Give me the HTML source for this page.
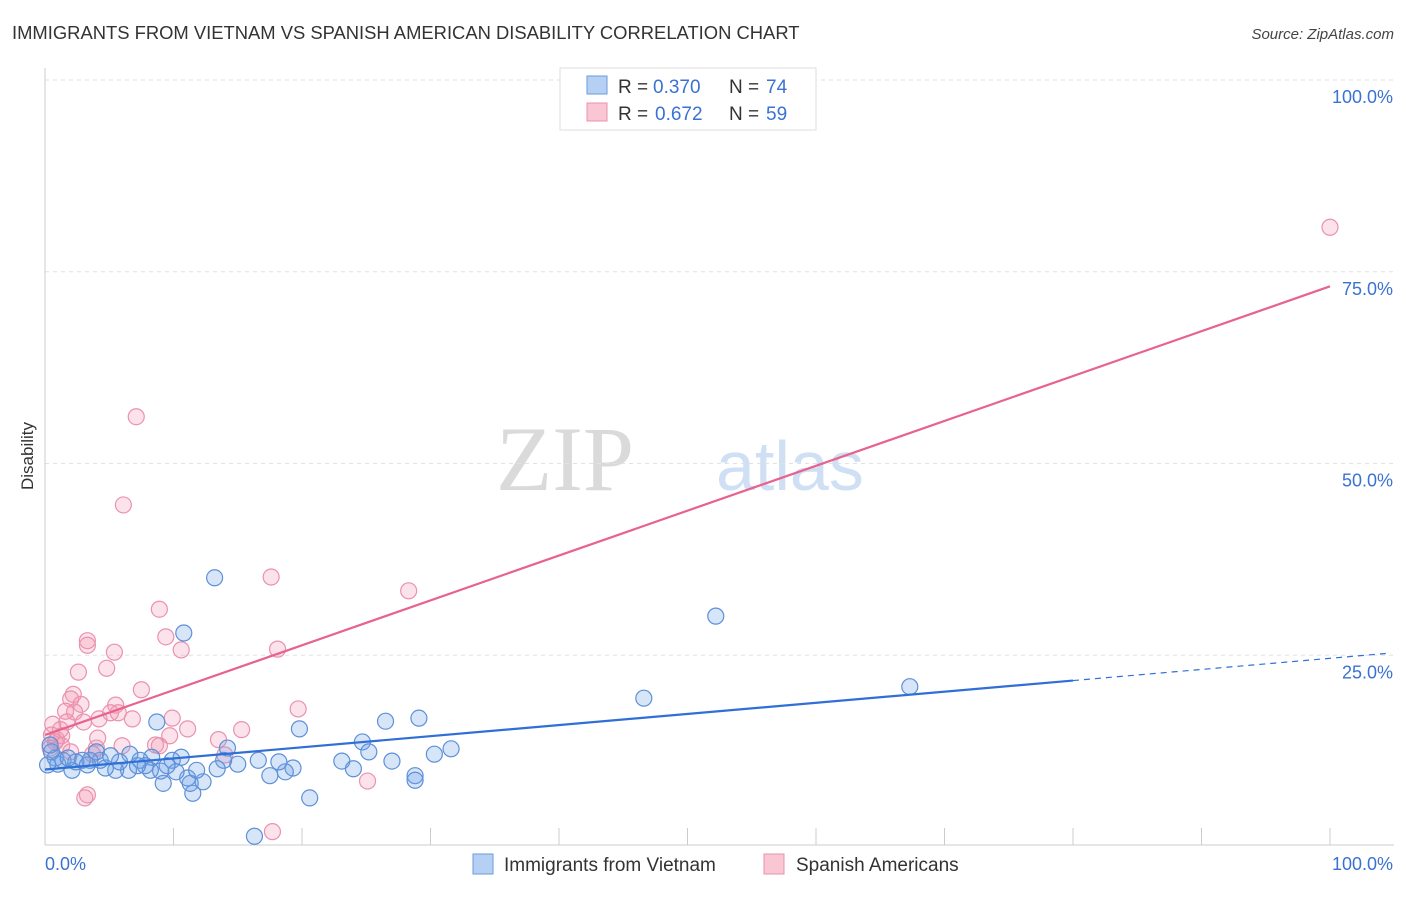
<!DOCTYPE html>
<html><head><meta charset="utf-8"><style>
body{margin:0;background:#fff;font-family:"Liberation Sans",sans-serif;}
</style></head><body>
<svg id="chart" width="1406" height="892" viewBox="0 0 1406 892" xmlns="http://www.w3.org/2000/svg" font-family="Liberation Sans, sans-serif">
<text x="12" y="39" font-size="18.4" fill="#333">IMMIGRANTS FROM VIETNAM VS SPANISH AMERICAN DISABILITY CORRELATION CHART</text>
<text x="1394" y="39" font-size="15" fill="#444" text-anchor="end" font-style="italic">Source: ZipAtlas.com</text>
<g>
<text x="634" y="490" font-size="92" fill="#dadada" text-anchor="end" style="font-family:'Liberation Serif',serif">ZIP</text>
<text x="716" y="490" font-size="70" fill="#cfe0f4">atlas</text>
</g>
<g id="grid"></g>
<g id="axes"></g>
<g id="pts"></g>
<g id="lines"></g>
<text transform="translate(33,456) rotate(-90)" font-size="17" fill="#333" text-anchor="middle">Disability</text>
<g>
<rect x="560" y="68" width="256" height="62" fill="#fff" stroke="#ddd"/>
<rect x="587" y="76" width="20" height="18" fill="#b6d0f4" stroke="#6a9bdc"/>
<rect x="587" y="103" width="20" height="18" fill="#f9c6d4" stroke="#e891ab"/>
<text x="618" y="93" font-size="19" fill="#333">R =</text>
<text x="653" y="93" font-size="19" fill="#3a72d2">0.370</text>
<text x="729" y="93" font-size="19" fill="#333">N =</text>
<text x="766" y="93" font-size="19" fill="#3a72d2">74</text>
<text x="618" y="120" font-size="19" fill="#333">R =</text>
<text x="655" y="120" font-size="19" fill="#3a72d2">0.672</text>
<text x="729" y="120" font-size="19" fill="#333">N =</text>
<text x="766" y="120" font-size="19" fill="#3a72d2">59</text>
</g>
<g>
<rect x="473" y="854" width="20" height="20" fill="#b6d0f4" stroke="#6a9bdc"/>
<text x="504" y="871" font-size="19" fill="#333">Immigrants from Vietnam</text>
<rect x="764" y="854" width="20" height="20" fill="#f9c6d4" stroke="#e891ab"/>
<text x="796" y="871" font-size="19" fill="#333">Spanish Americans</text>
</g>
</svg>
<script>
const blueX=[13.2,10.8,52.2,67.3,46.6,8.7,19.8,29.1,26.5,24.7,31.6,30.3,25.2,27.0,23.1,24.0,28.8,28.8,20.6,16.3,19.3,18.7,17.5,16.6,18.2,14.2,15.0,13.9,13.4,12.3,11.5,11.3,11.1,11.8,10.6,9.9,10.2,9.2,9.0,8.2,8.3,7.4,6.6,6.5,5.5,5.8,4.7,4.3,4.0,3.5,2.9,2.1,1.4,0.8,0.5,0.4,1.0,2.4,5.1,7.8,9.5,7.2,3.3,1.8,0.2];
const blueY=[35.1,27.9,30.1,20.9,19.4,16.3,15.4,16.8,16.4,13.7,12.8,12.1,12.4,11.2,11.2,10.2,9.3,8.7,6.4,1.4,10.3,9.8,9.3,11.3,11.1,12.9,10.8,11.3,10.2,8.5,7.0,8.3,9.0,10.0,11.7,11.3,9.8,8.3,9.9,10.0,11.7,11.3,12.1,10.0,10.0,11.1,10.3,11.3,12.4,11.3,11.3,10.0,11.3,11.6,12.4,13.3,10.8,11.1,11.9,10.6,10.6,10.6,10.7,11.6,10.7];
const pinkX=[100,7.1,6.1,17.6,28.3,8.9,9.4,10.6,18.1,3.3,3.3,5.4,4.8,2.6,7.5,2.2,2.0,2.8,5.5,19.7,5.1,5.7,2.3,1.6,6.8,9.9,4.2,3.0,1.7,0.6,11.1,15.3,9.7,13.5,4.1,1.3,0.5,0.9,6.0,8.9,8.6,4.0,1.3,0.4,2.0,3.7,25.1,3.3,3.1,17.7,1.2,0.8,14.0];
const pinkY=[80.8,56.1,44.6,35.2,33.4,31.0,27.4,25.7,25.8,26.9,26.3,25.4,23.3,22.8,20.5,19.9,19.3,18.6,18.5,18.0,17.5,17.5,17.6,17.7,16.7,16.8,16.7,16.3,16.3,16.0,15.4,15.3,14.5,14.0,14.2,14.5,14.6,14.0,13.2,13.2,13.3,12.9,13.2,12.9,12.4,12.1,8.6,6.8,6.4,2.0,15.3,13.7,12.0];
const blueFit=[10.1,0.145];
const pinkFit=[14.6,0.585];
const yTicks=[25,50,75,100];
const yTickLabels=["25.0%","50.0%","75.0%","100.0%"];
const xTicks=[0,10,20,30,40,50,60,70,80,90,100];
const NS="http://www.w3.org/2000/svg";
const sx=v=>45+v*12.85, sy=v=>847-v*7.67;
function mk(p,t,a){const e=document.createElementNS(NS,t);for(const k in a)e.setAttribute(k,a[k]);document.getElementById(p).appendChild(e);return e;}
yTicks.forEach((t,i)=>{
 const g=mk('grid','line',{x1:45,x2:1394,y1:sy(t),y2:sy(t),stroke:'#e2e2e2','stroke-dasharray':'4,4'});
 
 
 const l=mk('grid','text',{x:1393,y:sy(t)+23,'font-size':18,fill:'#3a72d2','text-anchor':'end'});
 l.textContent=yTickLabels[i];
 
 
});
const ax=mk('axes','line',{x1:45,x2:1394,y1:845,y2:845,stroke:'#ccc'});


const ay=mk('axes','line',{x1:45,x2:45,y1:68,y2:845,stroke:'#ccc'});


xTicks.forEach(t=>{const k=mk('axes','line',{x1:sx(t),x2:sx(t),y1:828,y2:845,stroke:'#ccc'});
 
 });
const x0=mk('axes','text',{x:45,y:870,'font-size':18,fill:'#3a72d2'});x0.textContent='0.0%';


const x1=mk('axes','text',{x:1393,y:870,'font-size':18,fill:'#3a72d2','text-anchor':'end'});x1.textContent='100.0%';


pinkX.forEach((x,i)=>{const c=mk('pts','circle',{cx:sx(x),cy:sy(pinkY[i]),r:8,fill:'rgba(244,150,180,0.28)',stroke:'#ea92ae','stroke-width':1.2});
 
 });
blueX.forEach((x,i)=>{const c=mk('pts','circle',{cx:sx(x),cy:sy(blueY[i]),r:8,fill:'rgba(110,160,230,0.28)',stroke:'#5d90d8','stroke-width':1.2});
 
 });
const bl=mk('lines','line',{x1:sx(0),y1:sy(blueFit[0]),x2:sx(80),y2:sy(blueFit[0]+blueFit[1]*80),stroke:'#2f6fd6','stroke-width':2.2});


const bd=mk('lines','line',{x1:sx(80),y1:sy(blueFit[0]+blueFit[1]*80),x2:sx(104.6),y2:sy(blueFit[0]+blueFit[1]*104.6),stroke:'#2f6fd6','stroke-width':1.2,'stroke-dasharray':'6,5'});


const pl=mk('lines','line',{x1:sx(0),y1:sy(pinkFit[0]),x2:sx(100),y2:sy(pinkFit[0]+pinkFit[1]*100),stroke:'#e8628f','stroke-width':2.2});


</script>
</body></html>
